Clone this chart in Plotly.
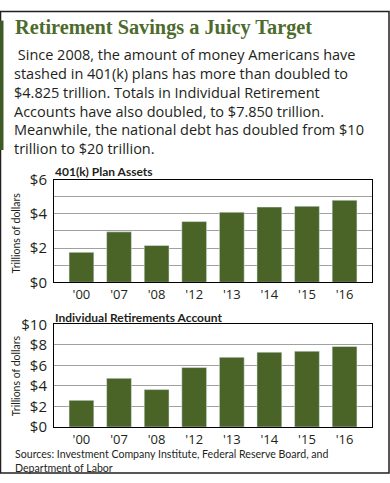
import plotly.graph_objects as go

W, H = 390, 483

years = ["'00", "'07", "'08", "'12", "'13", "'14", "'15", "'16"]
k401_values = [1.75, 2.95, 2.15, 3.55, 4.1, 4.4, 4.45, 4.8]
ira_values = [2.6, 4.75, 3.65, 5.8, 6.8, 7.3, 7.4, 7.85]

title_text = "Retirement Savings a Juicy Target"
body_lines = [
    "\u00a0Since 2008, the amount of money Americans have",
    "stashed in 401(k) plans has more than doubled to",
    "$4.825 trillion. Totals in Individual Retirement",
    "Accounts have also doubled, to $7.850 trillion.",
    "Meanwhile, the national debt has doubled from $10",
    "trillion to $20 trillion.",
]
chart1_title = "401(k) Plan Assets"
chart2_title = "Individual Retirements Account"
y_title = "Trillions of dollars"
source_lines = [
    "Sources: Investment Company Institute, Federal Reserve Board, and",
    "Department of Labor",
]
k401_ticks = [0, 2, 4, 6]
k401_ticktext = ["$0", "$2", "$4", "$6"]
ira_ticks = [0, 2, 4, 6, 8, 10]
ira_ticktext = ["$0", "$2", "$4", "$6", "$8", "$10"]

GREEN = "#4a6428"
TXT = "#231f20"
FONT = "Open Sans"
FONT2 = "Lato"


def px(x):
    return x / W


def py(y):
    return 1 - y / H


fig = go.Figure()
fig.add_trace(go.Bar(x=years, y=k401_values, marker_color=GREEN, width=0.66,
                     xaxis="x", yaxis="y", hoverinfo="x+y"))
fig.add_trace(go.Bar(x=years, y=ira_values, marker_color=GREEN, width=0.66,
                     xaxis="x2", yaxis="y2", hoverinfo="x+y"))

xcommon = dict(type="category", range=[-0.73, 7.73], showline=True, linecolor="black",
               linewidth=1, mirror=True, showgrid=False, ticks="",
               tickfont=dict(family=FONT, size=13, color=TXT), fixedrange=True)
ycommon = dict(showline=True, linecolor="black", linewidth=1, mirror=True,
               showgrid=True, gridcolor="#a0a0a0", gridwidth=1, ticks="",
               tickmode="array",
               tickfont=dict(family=FONT, size=15, color=TXT),
               zeroline=False, fixedrange=True, ticklabelstandoff=3)

fig.update_layout(
    width=W, height=H,
    margin=dict(l=0, r=0, t=0, b=0),
    paper_bgcolor="white", plot_bgcolor="white",
    showlegend=False, bargap=0.3,
    xaxis=dict(domain=[px(54), px(372)], anchor="y", **xcommon),
    yaxis=dict(domain=[py(283), py(176)], anchor="x", range=[0, 6],
               tickvals=k401_ticks, ticktext=k401_ticktext,
               minor=dict(dtick=1, showgrid=True, gridcolor="#a0a0a0", gridwidth=1),
               **ycommon),
    xaxis2=dict(domain=[px(54), px(372)], anchor="y2", **xcommon),
    yaxis2=dict(domain=[py(434), py(327)], anchor="x2", range=[0, 10],
                tickvals=ira_ticks, ticktext=ira_ticktext, **ycommon),
)

ann = []
ann.append(dict(text="<b>" + title_text + "</b>", x=px(13), y=py(17), xref="paper", yref="paper",
                xanchor="left", yanchor="middle", showarrow=False,
                font=dict(family="Liberation Serif", size=20.3, color="#4d6b2c")))
ann.append(dict(text="<br>".join(body_lines), x=px(12), y=py(33), xref="paper", yref="paper",
                xanchor="left", yanchor="top", align="left", showarrow=False,
                font=dict(family=FONT, size=14.5, color=TXT)))
ann.append(dict(text="<b>" + chart1_title + "</b>", x=px(53), y=py(167.5), xref="paper", yref="paper",
                xanchor="left", yanchor="middle", showarrow=False,
                font=dict(family=FONT2, size=12, color=TXT)))
ann.append(dict(text="<b>" + chart2_title + "</b>", x=px(53), y=py(320), xref="paper", yref="paper",
                xanchor="left", yanchor="middle", showarrow=False,
                font=dict(family=FONT2, size=12, color=TXT)))
ann.append(dict(text=y_title, x=px(16), y=py(232), xref="paper", yref="paper",
                xanchor="center", yanchor="middle", showarrow=False, textangle=-90,
                font=dict(family=FONT2, size=10.5, color=TXT)))
ann.append(dict(text=y_title, x=px(16), y=py(381), xref="paper", yref="paper",
                xanchor="center", yanchor="middle", showarrow=False, textangle=-90,
                font=dict(family=FONT2, size=10.5, color=TXT)))
ann.append(dict(text="<br>".join(source_lines), x=px(13), y=py(454), xref="paper", yref="paper",
                xanchor="left", yanchor="top", align="left", showarrow=False,
                font=dict(family=FONT2, size=10.6, color=TXT)))
fig.update_layout(annotations=ann)

fig.update_layout(shapes=[
    dict(type="rect", xref="paper", yref="paper", x0=px(0.5), x1=px(389), y0=py(482), y1=py(0.5),
         line=dict(color="#231f20", width=1.5), fillcolor="rgba(0,0,0,0)"),
    dict(type="rect", xref="paper", yref="paper", x0=px(0), x1=px(3.5), y0=py(145), y1=py(10),
         line=dict(width=0), fillcolor="#3f5a25"),
])

fig.write_html("out.html", config={"displayModeBar": False},
               post_script="document.body.style.margin='0';document.body.style.overflow='hidden';")
